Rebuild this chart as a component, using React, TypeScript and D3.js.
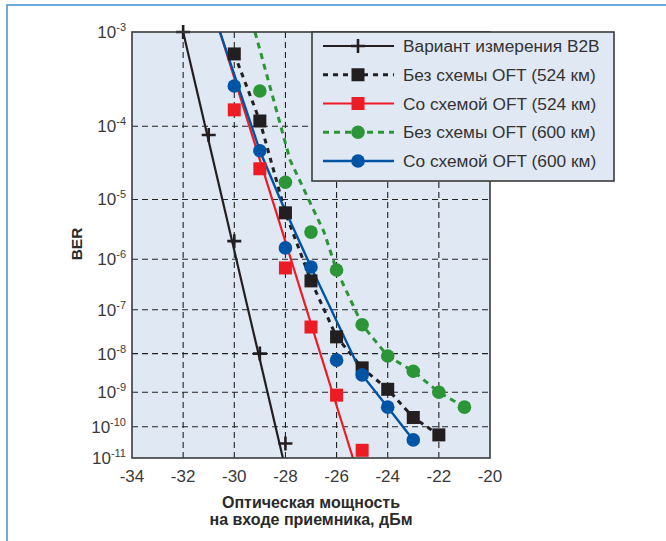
import React, { useEffect, useRef } from 'react';
import * as d3 from 'd3';

// optical power, dBm
const powerTicks = [-34, -32, -30, -28, -26, -24, -22, -20];
const berExponents = [-3, -4, -5, -6, -7, -8, -9, -10, -11];

const b2bPower = [-32, -31, -30, -29, -28];
const b2bBer = [1e-3, 7.8e-5, 2.1e-6, 1e-8, 3e-11];
const b2bFitPower = [-32, -28.1];
const b2bFitBer = [1e-3, 1e-11];

const noOft524Power = [-30, -29, -28, -27, -26, -25, -24, -23, -22];
const noOft524Ber = [6.2e-4, 1.16e-4, 6.2e-6, 3.9e-7, 2.5e-8, 4.4e-9, 1.2e-9, 1.9e-10, 5.6e-11];

const oft524Power = [-30, -29, -28, -27, -26, -25];
const oft524Ber = [1.57e-4, 2.8e-5, 6.9e-7, 4.2e-8, 8.3e-10, 1.8e-11];
const oft524FitPower = [-30.56, -25.36];
const oft524FitBer = [1e-3, 1e-11];

const noOft600Power = [-29, -28, -27, -26, -25, -24, -23, -22, -21];
const noOft600Ber = [2.56e-4, 1.8e-5, 3.0e-6, 6.3e-7, 4.7e-8, 8.7e-9, 3.6e-9, 1.0e-9, 3.8e-10];
const noOft600FitPower = [-29.19, -27.82, -26.49, -26, -25, -24, -23, -22, -21];
const noOft600FitBer = [1e-3, 3.7e-5, 3.0e-6, 6.3e-7, 4.7e-8, 8.7e-9, 3.6e-9, 1.0e-9, 3.8e-10];

const oft600Power = [-30, -29, -28, -27, -26, -25, -24, -23];
const oft600Ber = [2.9e-4, 4.9e-5, 1.6e-6, 7.2e-7, 6.9e-9, 2.9e-9, 3.8e-10, 3.9e-11];
const oft600FitPower = [-30.56, -29, -28.2, -27, -25, -24, -23];
const oft600FitBer = [1e-3, 4.9e-5, 1e-5, 7.2e-7, 2.9e-9, 3.8e-10, 3.9e-11];

const legendLabels = [
  'Вариант измерения B2B',
  'Без схемы OFT (524 км)',
  'Со схемой OFT (524 км)',
  'Без схемы OFT (600 км)',
  'Со схемой OFT (600 км)',
];

const zip = (xs: number[], ys: number[]) => xs.map((x, i) => [x, ys[i]] as [number, number]);

const series = [
  { pts: zip(b2bPower, b2bBer), fit: zip(b2bFitPower, b2bFitBer), color: '#231f20', dash: null, width: 2.2, marker: 'plus' },
  { pts: zip(noOft524Power, noOft524Ber), fit: zip(noOft524Power, noOft524Ber), color: '#231f20', dash: '5,5', width: 3, marker: 'square' },
  { pts: zip(oft524Power, oft524Ber), fit: zip(oft524FitPower, oft524FitBer), color: '#ed1c24', dash: null, width: 2.2, marker: 'square' },
  { pts: zip(noOft600Power, noOft600Ber), fit: zip(noOft600FitPower, noOft600FitBer), color: '#2b9537', dash: '6,5', width: 3, marker: 'circle' },
  { pts: zip(oft600Power, oft600Ber), fit: zip(oft600FitPower, oft600FitBer), color: '#0054a6', dash: null, width: 2.4, marker: 'circle' },
];

const W = 666;
const H = 541;
const margin = { left: 132, top: 32, right: 176, bottom: 83 };
const font = "'Liberation Sans', Arial, sans-serif";

const drawMarker = (g: any, type: string, x: number, y: number, color: string) => {
  if (type === 'square') {
    g.append('rect').attr('x', x - 6.5).attr('y', y - 6.5).attr('width', 13).attr('height', 13).attr('fill', color);
  } else if (type === 'circle') {
    g.append('circle').attr('cx', x).attr('cy', y).attr('r', 6.8).attr('fill', color);
  } else {
    g.append('path')
      .attr('d', `M${x - 7},${y}H${x + 7}M${x},${y - 7}V${y + 7}`)
      .attr('stroke', color)
      .attr('stroke-width', 2.6);
  }
};

const drawChart = (node: SVGSVGElement) => {
  const svg = d3.select(node);
  svg.selectAll('*').remove();

  const iw = W - margin.left - margin.right;
  const ih = H - margin.top - margin.bottom;

  const x = d3.scaleLinear().domain([-34, -20]).range([margin.left, margin.left + iw]);
  // BER axis: log of -log10(BER)
  const yq = d3.scaleLog().domain([3, 11]).range([margin.top, margin.top + ih]);
  const y = (ber: number) => yq(-Math.log10(ber));

  // outer frame
  svg.append('rect')
    .attr('x', 7).attr('y', 5).attr('width', W + 20).attr('height', H + 20)
    .attr('fill', 'white').attr('stroke', '#4a97d2').attr('stroke-width', 1.6);

  svg.append('rect')
    .attr('x', margin.left).attr('y', margin.top).attr('width', iw).attr('height', ih)
    .attr('fill', '#e0e8f4');

  svg.append('defs').append('clipPath').attr('id', 'plotclip')
    .append('rect').attr('x', margin.left).attr('y', margin.top).attr('width', iw).attr('height', ih);

  // grid
  const grid = svg.append('g').attr('stroke', '#222').attr('stroke-width', 1.1).attr('stroke-dasharray', '6,4');
  powerTicks.slice(1, -1).forEach((t) => {
    grid.append('line').attr('x1', x(t)).attr('x2', x(t)).attr('y1', margin.top).attr('y2', margin.top + ih);
  });
  berExponents.slice(1, -1).forEach((e) => {
    grid.append('line').attr('x1', margin.left).attr('x2', margin.left + iw).attr('y1', y(10 ** e)).attr('y2', y(10 ** e));
  });

  const plot = svg.append('g').attr('clip-path', 'url(#plotclip)');
  const line = d3.line<[number, number]>().x((d) => x(d[0])).y((d) => y(d[1]));

  series.forEach((s) => {
    plot.append('path')
      .attr('d', line(s.fit))
      .attr('fill', 'none')
      .attr('stroke', s.color)
      .attr('stroke-width', s.width)
      .attr('stroke-dasharray', s.dash);
  });
  series.forEach((s) => {
    s.pts.forEach((p) => drawMarker(svg, s.marker, x(p[0]), y(p[1]), s.color));
  });

  svg.append('rect')
    .attr('x', margin.left).attr('y', margin.top).attr('width', iw).attr('height', ih)
    .attr('fill', 'none').attr('stroke', '#3a3a3a').attr('stroke-width', 1.6);

  // x tick labels
  svg.append('g').selectAll('text').data(powerTicks).enter().append('text')
    .attr('x', (d) => x(d)).attr('y', margin.top + ih + 24)
    .attr('text-anchor', 'middle')
    .attr('font-family', font).attr('font-size', 17).attr('fill', '#3a3a3a')
    .text((d) => `${d}`);

  // y tick labels
  berExponents.forEach((e) => {
    const t = svg.append('text')
      .attr('x', margin.left - 6).attr('y', y(10 ** e) + 6)
      .attr('text-anchor', 'end')
      .attr('font-family', font).attr('font-size', 17).attr('fill', '#3a3a3a');
    t.append('tspan').text('10');
    t.append('tspan').attr('dy', -7).attr('font-size', 11).text(`${e}`);
  });

  svg.append('text')
    .attr('transform', `translate(82,244) rotate(-90)`)
    .attr('text-anchor', 'middle')
    .attr('font-family', font).attr('font-size', 15.5).attr('font-weight', 'bold').attr('fill', '#2a2a2a')
    .text('BER');

  const title = svg.append('text')
    .attr('text-anchor', 'middle')
    .attr('font-family', font).attr('font-size', 16).attr('font-weight', 'bold').attr('fill', '#2a2a2a');
  title.append('tspan').attr('x', margin.left + iw / 2).attr('y', 508).text('Оптическая мощность');
  title.append('tspan').attr('x', margin.left + iw / 2).attr('y', 525).text('на входе приемника, дБм');

  // legend
  const lg = svg.append('g');
  lg.append('rect')
    .attr('x', 312).attr('y', 32).attr('width', 302).attr('height', 149)
    .attr('fill', '#e0e8f4').attr('stroke', '#3a3a3a').attr('stroke-width', 1.6);
  const rowY = d3.scalePoint<number>().domain(d3.range(series.length)).range([46, 161]);
  series.forEach((s, i) => {
    const ry = rowY(i) as number;
    lg.append('line')
      .attr('x1', 323).attr('x2', 394).attr('y1', ry).attr('y2', ry)
      .attr('stroke', s.color).attr('stroke-width', s.width)
      .attr('stroke-dasharray', s.dash);
    drawMarker(lg, s.marker, 358, ry, s.color);
    lg.append('text')
      .attr('x', 403).attr('y', ry + 6)
      .attr('font-family', font).attr('font-size', 17.3).attr('fill', '#333')
      .text(legendLabels[i]);
  });
};

const App = () => {
  const ref = useRef<SVGSVGElement>(null);
  useEffect(() => {
    if (ref.current) drawChart(ref.current);
  }, []);
  return (
    <svg
      ref={ref}
      width={W}
      height={H}
      style={{ position: 'absolute', left: 0, top: 0, background: 'white' }}
    />
  );
};

export default App;
